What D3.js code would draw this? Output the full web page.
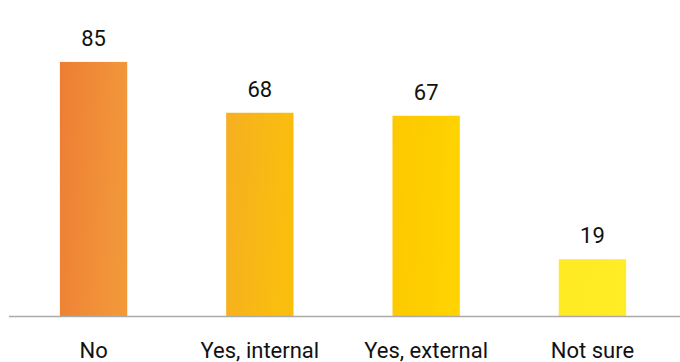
<!DOCTYPE html>
<html>
<head>
<meta charset="utf-8">
<script src="https://cdn.jsdelivr.net/npm/d3@7"></script>
<style>
  html, body { margin: 0; padding: 0; background: #fff; }
  svg { display: block; }
  text { font-family: Roboto, "Noto Sans", sans-serif; fill: #111; }
</style>
</head>
<body>
<svg id="chart" width="680" height="362"></svg>
<script>
// Survey answers and respondent counts
const categories = ["No", "Yes, internal", "Yes, external", "Not sure"];
const counts = [85, 68, 67, 19];

// Orange-to-yellow ramp applied across the plot width
const rampStops = [
  { offset: 0.00, color: "#E96A30" },
  { offset: 0.18, color: "#F2963A" },
  { offset: 0.30, color: "#F5AA28" },
  { offset: 0.42, color: "#F9BC10" },
  { offset: 0.58, color: "#FDC800" },
  { offset: 0.70, color: "#FFD400" },
  { offset: 0.82, color: "#FFEA22" },
  { offset: 1.00, color: "#FFEE28" }
];

const chartWidth = 680, chartHeight = 362;
const baseline = 316, plotTop = 47;

const svg = d3.select("#chart");

const x = d3.scaleBand()
  .domain(categories)
  .range([10, 676])
  .paddingInner(0.595)
  .paddingOuter(0.3);

const y = d3.scaleLinear()
  .domain([0, 90])
  .range([baseline, plotTop]);

const defs = svg.append("defs");
const grad = defs.append("linearGradient")
  .attr("id", "ramp")
  .attr("gradientUnits", "userSpaceOnUse")
  .attr("x1", x.range()[0]).attr("y1", 0)
  .attr("x2", x.range()[1]).attr("y2", 40);
grad.selectAll("stop")
  .data(rampStops)
  .join("stop")
  .attr("offset", d => d.offset)
  .attr("stop-color", d => d.color);

const data = categories.map((c, i) => ({ c, v: counts[i] }));

// Bars
svg.append("g")
  .selectAll("rect")
  .data(data)
  .join("rect")
  .attr("x", d => x(d.c))
  .attr("width", x.bandwidth())
  .attr("y", d => y(d.v))
  .attr("height", d => y(0) - y(d.v))
  .attr("fill", "url(#ramp)");

// Value labels above bars
svg.append("g")
  .selectAll("text")
  .data(data)
  .join("text")
  .attr("x", d => x(d.c) + x.bandwidth() / 2)
  .attr("y", d => y(d.v) - 16)
  .attr("text-anchor", "middle")
  .style("font-size", "22px")
  .text(d => d.v);

// Category axis
const axis = svg.append("g")
  .attr("transform", `translate(0,${baseline})`)
  .call(d3.axisBottom(x).tickSize(0).tickPadding(26));
axis.select(".domain")
  .attr("d", `M9,0.5H${chartWidth}`)
  .attr("stroke", "#aaa")
  .attr("stroke-width", 1.5);
axis.selectAll(".tick text")
  .style("font-size", "22px")
  .style("font-family", "Roboto, 'Noto Sans', sans-serif")
  .attr("fill", "#111");
</script>
</body>
</html>
